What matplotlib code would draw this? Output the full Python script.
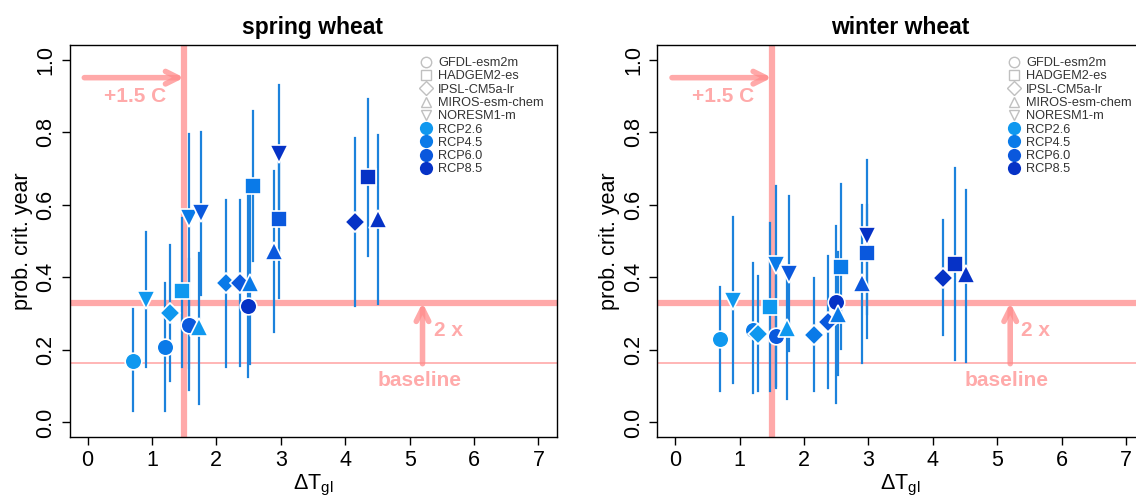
import numpy as np
import matplotlib
matplotlib.use("Agg")
import matplotlib.pyplot as plt
from matplotlib.lines import Line2D

plt.rcParams['font.family'] = ['Liberation Sans', 'DejaVu Sans']
plt.rcParams['mathtext.default'] = 'regular'

# ---- data ---------------------------------------------------------------
models = ['GFDL-esm2m', 'HADGEM2-es', 'IPSL-CM5a-lr', 'MIROS-esm-chem', 'NORESM1-m']
model_markers = ['o', 's', 'D', '^', 'v']
rcps = ['RCP2.6', 'RCP4.5', 'RCP6.0', 'RCP8.5']
rcp_colors = ['#0f98ef', '#0a7ae8', '#0a58dd', '#0632c6']

# global warming per model (rows) and rcp (columns)
dT = [
    [0.70, 1.20, 1.57, 2.49],
    [1.47, 2.57, 2.97, 4.35],
    [1.28, 2.15, 2.37, 4.15],
    [1.73, 2.52, 2.90, 4.51],
    [0.90, 1.57, 1.76, 2.97],
]

spring_p = [
    [0.170, 0.208, 0.268, 0.320],
    [0.363, 0.652, 0.560, 0.676],
    [0.302, 0.383, 0.383, 0.552],
    [0.264, 0.383, 0.473, 0.561],
    [0.337, 0.562, 0.576, 0.739],
]
spring_lo = [
    [0.031, 0.031, 0.090, 0.126],
    [0.152, 0.444, 0.342, 0.460],
    [0.115, 0.152, 0.155, 0.320],
    [0.052, 0.160, 0.250, 0.326],
    [0.153, 0.150, 0.350, 0.550],
]
spring_hi = [
    [0.313, 0.385, 0.450, 0.630],
    [0.564, 0.859, 0.750, 0.890],
    [0.490, 0.614, 0.614, 0.785],
    [0.466, 0.630, 0.692, 0.793],
    [0.525, 0.796, 0.800, 0.931],
]

winter_p = [
    [0.229, 0.256, 0.239, 0.333],
    [0.317, 0.427, 0.467, 0.436],
    [0.243, 0.242, 0.277, 0.399],
    [0.261, 0.298, 0.385, 0.408],
    [0.335, 0.435, 0.408, 0.515],
]
winter_lo = [
    [0.086, 0.080, 0.100, 0.055],
    [0.086, 0.202, 0.234, 0.172],
    [0.086, 0.086, 0.095, 0.241],
    [0.064, 0.130, 0.165, 0.167],
    [0.110, 0.094, 0.197, 0.300],
]
winter_hi = [
    [0.372, 0.440, 0.400, 0.540],
    [0.550, 0.656, 0.600, 0.702],
    [0.404, 0.397, 0.460, 0.557],
    [0.420, 0.470, 0.600, 0.640],
    [0.567, 0.652, 0.624, 0.724],
]

baseline = 0.165
doubled = 0.33
target = 1.5

panels = [('spring wheat', spring_p, spring_lo, spring_hi),
          ('winter wheat', winter_p, winter_lo, winter_hi)]

# ---- figure -------------------------------------------------------------
W, H = 1136, 496
fig = plt.figure(figsize=(W / 100, H / 100), dpi=100)
ax_pos = [[69.5, 59, 487, 392], [657.2, 59, 487, 392]]

red = '#ff8c8c'
err_col = '#1c82dc'
marker_size = {'o': 12, 's': 11, 'D': 10, '^': 13, 'v': 13}

for (title, P, LO, HI), pos in zip(panels, ax_pos):
    ax = fig.add_axes([pos[0] / W, pos[1] / H, pos[2] / W, pos[3] / H])
    ax.set_xlim(-0.28, 7.28)
    ax.set_ylim(-0.04, 1.04)

    # reference lines
    ax.axhline(doubled, color=red, lw=4.5, alpha=0.75, zorder=1)
    ax.axhline(baseline, color=red, lw=1.2, alpha=0.75, zorder=1)
    ax.axvline(target, color=red, lw=4.5, alpha=0.75, zorder=1)

    # arrows
    ax.annotate('', xy=(target, 0.95), xytext=(-0.05, 0.95),
                arrowprops=dict(arrowstyle='->,head_length=0.9,head_width=0.45',
                                color=red, lw=4, alpha=0.75, shrinkA=0, shrinkB=0),
                zorder=2)
    ax.annotate('', xy=(5.2, doubled), xytext=(5.2, baseline - 0.003),
                arrowprops=dict(arrowstyle='->,head_length=0.9,head_width=0.45',
                                color=red, lw=4, alpha=0.75, shrinkA=0, shrinkB=0),
                zorder=2)
    ax.text(0.74, 0.898, '+1.5 C', color='#ffaaaa', fontsize=15, fontweight='bold',
            ha='center', va='center', zorder=2)
    ax.text(5.6, 0.253, '2 x', color='#ffaaaa', fontsize=15, fontweight='bold',
            ha='center', va='center', zorder=2)
    ax.text(5.15, 0.115, 'baseline', color='#ffaaaa', fontsize=15, fontweight='bold',
            ha='center', va='center', zorder=2)

    # error bars then points
    for m in range(len(models)):
        for r in range(len(rcps)):
            ax.plot([dT[m][r], dT[m][r]], [LO[m][r], HI[m][r]],
                    color=err_col, lw=1.6, zorder=3)
    for m in range(len(models)):
        for r in range(len(rcps)):
            mk = model_markers[m]
            ax.plot(dT[m][r], P[m][r], marker=mk, ms=marker_size[mk],
                    color=rcp_colors[r], mec='white', mew=1.2, ls='none', zorder=4)

    # legend
    handles = [Line2D([], [], marker=mk, ls='none', mfc='none', mec='#c0c0c0',
                      ms=7.5, mew=1) for mk in model_markers]
    handles += [Line2D([], [], marker='o', ls='none', color=c, ms=9.5, mew=0)
                for c in rcp_colors]
    leg = ax.legend(handles, models + rcps, loc='upper right',
                    bbox_to_anchor=(0.995, 0.995), frameon=False, fontsize=9.2,
                    labelspacing=0.1, handlelength=1.0, handletextpad=0.45,
                    borderpad=0.3)
    for t in leg.get_texts():
        t.set_color('#333333')

    ax.set_title(title, fontsize=16.5, fontweight='bold', pad=8)
    ax.set_xticks(range(0, 8))
    ax.set_yticks([0.0, 0.2, 0.4, 0.6, 0.8, 1.0])
    ax.set_yticklabels(['0.0', '0.2', '0.4', '0.6', '0.8', '1.0'],
                       rotation=90, va='center')
    ax.tick_params(labelsize=15.5, length=6, width=1)
    ax.set_xlabel(r'$\Delta T_{gl}$', fontsize=15.5, labelpad=1)
    ax.set_ylabel('prob. crit. year', fontsize=15.5, labelpad=2)
    for s in ax.spines.values():
        s.set_linewidth(1)

fig.savefig('out.png', dpi=100)
